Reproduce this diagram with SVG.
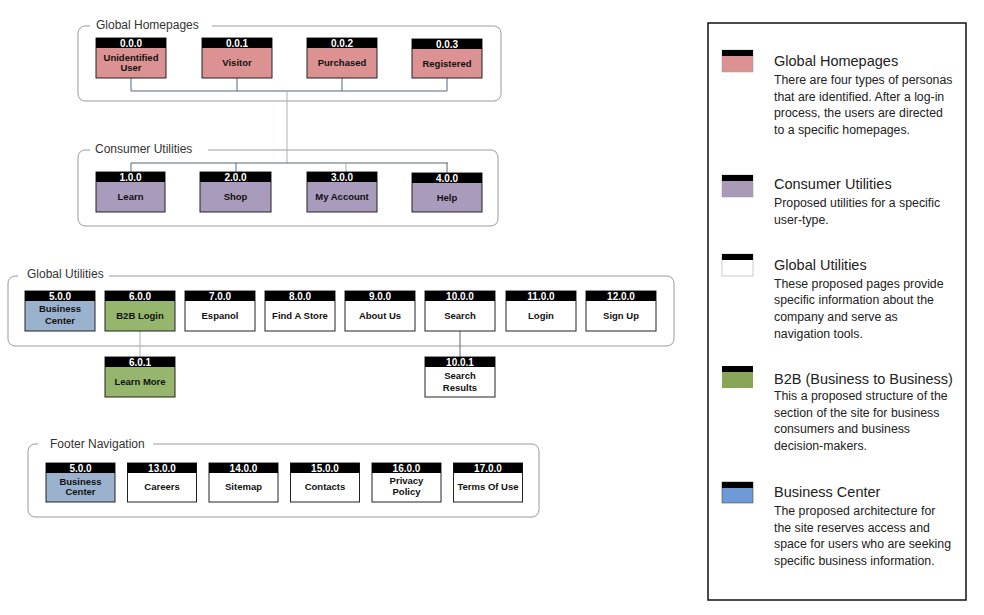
<svg xmlns="http://www.w3.org/2000/svg" width="984" height="615" viewBox="0 0 984 615">
<style>
.grp{fill:none;stroke:#9a9a9a;stroke-width:1}
.gt{font-family:"Liberation Sans",Arial,sans-serif;font-size:12px;fill:#333}
.hd{fill:#000}
.bd{stroke:#222;stroke-width:1}
.pink{fill:#dc9293}
.purp{fill:#a99bbb}
.blue{fill:#9bb2cf}
.green{fill:#96b56d}
.white{fill:#fff}
.num{font-family:"Liberation Sans",Arial,sans-serif;font-size:10px;font-weight:bold;fill:#fff;text-anchor:middle}
.lbl{font-family:"Liberation Sans",Arial,sans-serif;font-size:9.5px;font-weight:bold;fill:#111;text-anchor:middle}
.cd{fill:none;stroke:#56677e;stroke-width:1}
.cl{fill:none;stroke:#a9b1bd;stroke-width:1}
.lt{font-family:"Liberation Sans",Arial,sans-serif;font-size:14.5px;fill:#222}
.ld{font-family:"Liberation Sans",Arial,sans-serif;font-size:12.3px;fill:#222}
</style>
<rect width="984" height="615" fill="#fff"/>

<!-- group boxes -->
<g id="grp-homepages">
<path class="grp" d="M212,26 H494 A7,7 0 0 1 501,33 V94 A7,7 0 0 1 494,101 H85 A7,7 0 0 1 78,94 V33 A7,7 0 0 1 85,26 H90"/>
<text class="gt" x="96" y="29">Global Homepages</text>
</g>
<g id="grp-consumer">
<path class="grp" d="M208,150 H491 A7,7 0 0 1 498,157 V219 A7,7 0 0 1 491,226 H85 A7,7 0 0 1 78,219 V157 A7,7 0 0 1 85,150 H90"/>
<text class="gt" x="95" y="153">Consumer Utilities</text>
</g>
<g id="grp-global">
<path class="grp" d="M109,276 H667 A7,7 0 0 1 674,283 V339 A7,7 0 0 1 667,346 H15 A7,7 0 0 1 8,339 V283 A7,7 0 0 1 15,276 H18"/>
<text class="gt" x="27" y="278">Global Utilities</text>
</g>
<g id="grp-footer">
<path class="grp" d="M153,444 H532 A7,7 0 0 1 539,451 V510 A7,7 0 0 1 532,517 H35 A7,7 0 0 1 28,510 V451 A7,7 0 0 1 35,444 H38"/>
<text class="gt" x="50" y="448">Footer Navigation</text>
</g>

<!-- connectors -->
<g id="connectors">
<path class="cd" d="M131,78 V91 M237,78 V91 M342,78 V91 M447,78 V91 M131,91 H447"/>
<path class="cl" d="M287,91 V163"/>
<path class="cd" d="M131,163 H448 M131,163 V172 M236,163 V172 M447,163 V173"/>
<path class="cl" d="M346,163 V172"/>
<path class="cl" d="M140,331 V357"/>
<path class="cd" d="M460,331 V357"/>
</g>

<!-- Global Homepages nodes -->
<g id="n000"><rect class="bd pink" x="96" y="38" width="70" height="40"/><rect class="hd" x="96" y="38" width="70" height="10"/><text class="num" x="131" y="47">0.0.0</text><text class="lbl" x="131" y="60.5">Unidentified</text><text class="lbl" x="131" y="71">User</text></g>
<g id="n001"><rect class="bd pink" x="202" y="38" width="70" height="40"/><rect class="hd" x="202" y="38" width="70" height="10"/><text class="num" x="237" y="47">0.0.1</text><text class="lbl" x="237" y="66">Visitor</text></g>
<g id="n002"><rect class="bd pink" x="307" y="38" width="70" height="40"/><rect class="hd" x="307" y="38" width="70" height="10"/><text class="num" x="342" y="47">0.0.2</text><text class="lbl" x="342" y="66">Purchased</text></g>
<g id="n003"><rect class="bd pink" x="412" y="39" width="70" height="39"/><rect class="hd" x="412" y="39" width="70" height="10"/><text class="num" x="447" y="48">0.0.3</text><text class="lbl" x="447" y="67">Registered</text></g>

<!-- Consumer Utilities nodes -->
<g id="n100"><rect class="bd purp" x="96" y="172" width="69" height="40"/><rect class="hd" x="96" y="172" width="69" height="10"/><text class="num" x="130.5" y="181">1.0.0</text><text class="lbl" x="130.5" y="199.5">Learn</text></g>
<g id="n200"><rect class="bd purp" x="200" y="172" width="71" height="40"/><rect class="hd" x="200" y="172" width="71" height="10"/><text class="num" x="235.5" y="181">2.0.0</text><text class="lbl" x="235.5" y="199.5">Shop</text></g>
<g id="n300"><rect class="bd purp" x="307" y="172" width="70" height="40"/><rect class="hd" x="307" y="172" width="70" height="10"/><text class="num" x="342" y="181">3.0.0</text><text class="lbl" x="342" y="199.5">My Account</text></g>
<g id="n400"><rect class="bd purp" x="412" y="173" width="70" height="39"/><rect class="hd" x="412" y="173" width="70" height="10"/><text class="num" x="447" y="182">4.0.0</text><text class="lbl" x="447" y="200.5">Help</text></g>

<!-- Global Utilities nodes -->
<g id="n500"><rect class="bd blue" x="25" y="291" width="70" height="40"/><rect class="hd" x="25" y="291" width="70" height="10"/><text class="num" x="60" y="300">5.0.0</text><text class="lbl" x="60" y="312">Business</text><text class="lbl" x="60" y="323.5">Center</text></g>
<g id="n600"><rect class="bd green" x="105" y="291" width="70" height="40"/><rect class="hd" x="105" y="291" width="70" height="10"/><text class="num" x="140" y="300">6.0.0</text><text class="lbl" x="140" y="319">B2B Login</text></g>
<g id="n700"><rect class="bd white" x="185" y="291" width="70" height="40"/><rect class="hd" x="185" y="291" width="70" height="10"/><text class="num" x="220" y="300">7.0.0</text><text class="lbl" x="220" y="319">Espanol</text></g>
<g id="n800"><rect class="bd white" x="265" y="291" width="70" height="40"/><rect class="hd" x="265" y="291" width="70" height="10"/><text class="num" x="300" y="300">8.0.0</text><text class="lbl" x="300" y="319">Find A Store</text></g>
<g id="n900"><rect class="bd white" x="345" y="291" width="70" height="40"/><rect class="hd" x="345" y="291" width="70" height="10"/><text class="num" x="380" y="300">9.0.0</text><text class="lbl" x="380" y="319">About Us</text></g>
<g id="n1000"><rect class="bd white" x="425" y="291" width="70" height="40"/><rect class="hd" x="425" y="291" width="70" height="10"/><text class="num" x="460" y="300">10.0.0</text><text class="lbl" x="460" y="319">Search</text></g>
<g id="n1100"><rect class="bd white" x="506" y="291" width="70" height="40"/><rect class="hd" x="506" y="291" width="70" height="10"/><text class="num" x="541" y="300">11.0.0</text><text class="lbl" x="541" y="319">Login</text></g>
<g id="n1200"><rect class="bd white" x="586" y="291" width="70" height="40"/><rect class="hd" x="586" y="291" width="70" height="10"/><text class="num" x="621" y="300">12.0.0</text><text class="lbl" x="621" y="319">Sign Up</text></g>
<g id="n601"><rect class="bd green" x="105" y="357" width="70" height="40"/><rect class="hd" x="105" y="357" width="70" height="10"/><text class="num" x="140" y="366">6.0.1</text><text class="lbl" x="140" y="384.5">Learn More</text></g>
<g id="n1001"><rect class="bd white" x="425" y="357" width="70" height="40"/><rect class="hd" x="425" y="357" width="70" height="10"/><text class="num" x="460" y="366">10.0.1</text><text class="lbl" x="460" y="379">Search</text><text class="lbl" x="460" y="390.5">Results</text></g>

<!-- Footer nodes -->
<g id="f500"><rect class="bd blue" x="46" y="463" width="69" height="39"/><rect class="hd" x="46" y="463" width="69" height="10"/><text class="num" x="80.5" y="472">5.0.0</text><text class="lbl" x="80.5" y="484.5">Business</text><text class="lbl" x="80.5" y="495">Center</text></g>
<g id="f1300"><rect class="bd white" x="127.5" y="463" width="69" height="39"/><rect class="hd" x="127.5" y="463" width="69" height="10"/><text class="num" x="162" y="472">13.0.0</text><text class="lbl" x="162" y="489.5">Careers</text></g>
<g id="f1400"><rect class="bd white" x="209" y="463" width="69" height="39"/><rect class="hd" x="209" y="463" width="69" height="10"/><text class="num" x="243.5" y="472">14.0.0</text><text class="lbl" x="243.5" y="489.5">Sitemap</text></g>
<g id="f1500"><rect class="bd white" x="290.5" y="463" width="69" height="39"/><rect class="hd" x="290.5" y="463" width="69" height="10"/><text class="num" x="325" y="472">15.0.0</text><text class="lbl" x="325" y="489.5">Contacts</text></g>
<g id="f1600"><rect class="bd white" x="372" y="463" width="69" height="39"/><rect class="hd" x="372" y="463" width="69" height="10"/><text class="num" x="406.5" y="472">16.0.0</text><text class="lbl" x="406.5" y="484">Privacy</text><text class="lbl" x="406.5" y="495">Policy</text></g>
<g id="f1700"><rect class="bd white" x="453.5" y="463" width="69" height="39"/><rect class="hd" x="453.5" y="463" width="69" height="10"/><text class="num" x="488" y="472">17.0.0</text><text class="lbl" x="488" y="489.5">Terms Of Use</text></g>

<!-- Legend -->
<g id="legend">
<rect x="708" y="23" width="258" height="577" fill="#fff" stroke="#111" stroke-width="1.5"/>
<rect x="722" y="50" width="31" height="22" fill="#dd9191" stroke="#999" stroke-width="0.5"/><rect x="722" y="50" width="31" height="6" fill="#000"/>
<text class="lt" x="774" y="66">Global Homepages</text>
<text class="ld" x="774" y="84">There are four types of personas</text>
<text class="ld" x="774" y="101">that are identified. After a log-in</text>
<text class="ld" x="774" y="117">process, the users are directed</text>
<text class="ld" x="774" y="134">to a specific homepages.</text>

<rect x="722" y="175" width="31" height="22" fill="#a99ab9" stroke="#999" stroke-width="0.5"/><rect x="722" y="175" width="31" height="6" fill="#000"/>
<text class="lt" x="774" y="189">Consumer Utilities</text>
<text class="ld" x="774" y="207">Proposed utilities for a specific</text>
<text class="ld" x="774" y="224">user-type.</text>

<rect x="722" y="254" width="31" height="22" fill="#fff" stroke="#999" stroke-width="0.5"/><rect x="722" y="254" width="31" height="6" fill="#000"/>
<text class="lt" x="774" y="270">Global Utilities</text>
<text class="ld" x="774" y="288">These proposed pages provide</text>
<text class="ld" x="774" y="304">specific information about the</text>
<text class="ld" x="774" y="321">company and serve as</text>
<text class="ld" x="774" y="338">navigation tools.</text>

<rect x="722" y="366" width="31" height="22" fill="#88a55a"/><rect x="722" y="366" width="31" height="6" fill="#000"/>
<text class="lt" x="774" y="384">B2B (Business to Business)</text>
<text class="ld" x="774" y="400">This a proposed structure of the</text>
<text class="ld" x="774" y="417">section of the site for business</text>
<text class="ld" x="774" y="433">consumers and business</text>
<text class="ld" x="774" y="450">decision-makers.</text>

<rect x="722" y="482" width="31" height="21" fill="#6e9bd6" stroke="#333" stroke-width="0.5"/><rect x="722" y="482" width="31" height="6" fill="#000"/>
<text class="lt" x="774" y="497">Business Center</text>
<text class="ld" x="774" y="515">The proposed architecture for</text>
<text class="ld" x="774" y="532">the site reserves access and</text>
<text class="ld" x="774" y="548">space for users who are seeking</text>
<text class="ld" x="774" y="565">specific business information.</text>
</g>
</svg>
